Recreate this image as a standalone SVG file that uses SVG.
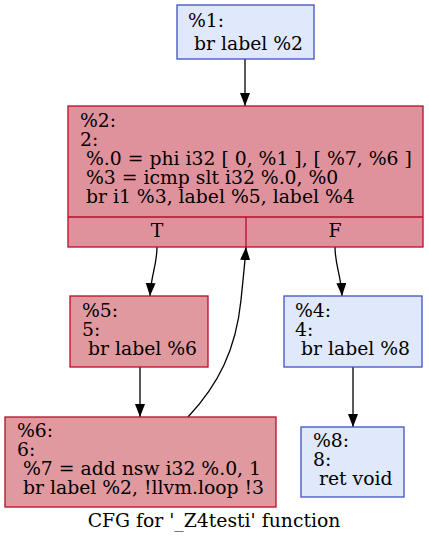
<svg xmlns="http://www.w3.org/2000/svg" width="429" height="544" viewBox="0 0 429 544">
<style>
text{font-family:"DejaVu Serif",serif;font-size:18.8px;fill:#000;white-space:pre}
.blue{fill:#e0e8fb;stroke:#3d50c3;stroke-width:1.3}
.red{fill:#e0929c;stroke:#b70d28;stroke-width:1.3}
.red2{fill:#e0999f;stroke:#b70d28;stroke-width:1.3}
.edge{fill:none;stroke:#000;stroke-width:1.3}
</style>
<defs>
<marker id="ah" markerUnits="userSpaceOnUse" markerWidth="14" markerHeight="11" refX="13" refY="5" orient="auto">
<path d="M0,0 L13,5 L0,10 z" fill="#000"/>
</marker>
</defs>
<rect width="429" height="544" fill="#fff"/>
<g id="connectors">
<path class="edge" d="M245,59 L245,106" marker-end="url(#ah)"/>
<path class="edge" d="M157,247 C157,265 151,275 150,296" marker-end="url(#ah)"/>
<path class="edge" d="M335,247 C335,265 341,275 342,296" marker-end="url(#ah)"/>
<path class="edge" d="M140,367 L140,417" marker-end="url(#ah)"/>
<path class="edge" d="M353,367 L353,427" marker-end="url(#ah)"/>
<path class="edge" d="M188,417 C218,385 236,350 241,300 C243,280 245,262 246,247" marker-end="url(#ah)"/>
</g>
<g id="node1">
<rect class="blue" x="177" y="5" width="137" height="54"/>
<text x="188" y="27">%1:</text>
<text x="188" y="50"> br label %2</text>
</g>
<g id="node2">
<rect class="red" x="68" y="106" width="355" height="141"/>
<line class="red" x1="68" y1="217" x2="423" y2="217"/>
<line class="red" x1="246" y1="217" x2="246" y2="247"/>
<text x="80" y="127">%2:</text>
<text x="80" y="146">2:</text>
<text x="80" y="165"> %.0 = phi i32 [ 0, %1 ], [ %7, %6 ]</text>
<text x="80" y="184"> %3 = icmp slt i32 %.0, %0</text>
<text x="80" y="203"> br i1 %3, label %5, label %4</text>
<text x="157" y="237" text-anchor="middle">T</text>
<text x="335" y="237" text-anchor="middle">F</text>
</g>
<g id="node5">
<rect class="red2" x="70" y="296" width="138" height="71"/>
<text x="82" y="317">%5:</text>
<text x="82" y="336">5:</text>
<text x="82" y="355"> br label %6</text>
</g>
<g id="node4">
<rect class="blue" x="284" y="296" width="138" height="71"/>
<text x="295" y="317">%4:</text>
<text x="295" y="336">4:</text>
<text x="295" y="355"> br label %8</text>
</g>
<g id="node6">
<rect class="red2" x="5" y="417" width="271" height="90"/>
<text x="17" y="437">%6:</text>
<text x="17" y="456">6:</text>
<text x="17" y="475"> %7 = add nsw i32 %.0, 1</text>
<text x="17" y="494"> br label %2, !llvm.loop !3</text>
</g>
<g id="node8">
<rect class="blue" x="301" y="427" width="103" height="70"/>
<text x="313" y="447">%8:</text>
<text x="313" y="466">8:</text>
<text x="313" y="485"> ret void</text>
</g>
<text x="214" y="527" text-anchor="middle">CFG for '_Z4testi' function</text>
</svg>
